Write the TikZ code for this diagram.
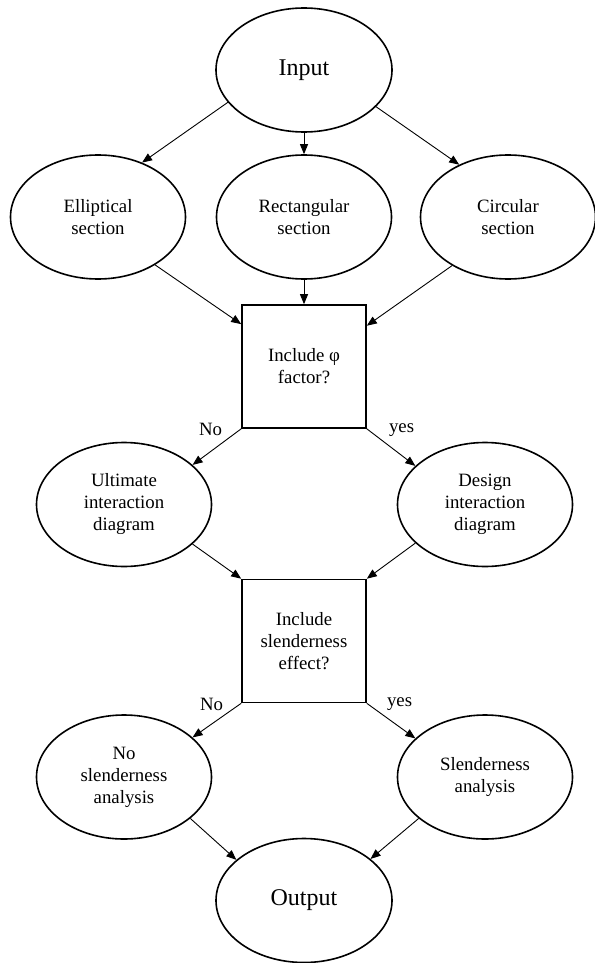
\documentclass[tikz,border=0pt]{standalone}
\usepackage{fontspec}
\setmainfont{Liberation Serif}
\usetikzlibrary{shapes.geometric}
\usetikzlibrary{arrows.meta}
\tikzstyle{process}=[draw, ellipse, line width=1.6pt, minimum width=175pt, minimum height=124pt, inner sep=0, align=center, font=\fontsize{18.8}{22}\selectfont]
\tikzstyle{terminal}=[process, minimum width=176pt, minimum height=124pt, font=\fontsize{24}{28}\selectfont]
\tikzstyle{decision}=[draw, rectangle, line width=1.6pt, minimum width=124pt, minimum height=123pt, inner sep=0, align=center, font=\fontsize{18.8}{22}\selectfont]
\tikzstyle{branch}=[inner sep=0, font=\fontsize{18.8}{22}\selectfont]
\tikzstyle{flow}=[line width=0.9pt, -{Triangle[length=10pt, width=8pt]}]

\begin{document}
\begin{tikzpicture}[x=1pt, y=-1pt]
      \useasboundingbox (0, 0) rectangle (594, 963);

      \node[terminal] (input) at (304, 70) {Input};

      \node[process] (elliptical) at (98, 217) {Elliptical\\section};
      \node[process] (rectangular) at (304, 217) {Rectangular\\section};
      \node[process] (circular) at (508, 217) {Circular\\section};

      \node[decision] (phi_check) at (304, 366.5) {Include φ\\factor?};
      \node[branch, anchor=east] (phi_no) at ([xshift=-19pt, yshift=-1pt] phi_check.south west) {No};
      \node[branch, anchor=west] (phi_yes) at ([xshift=22pt, yshift=-1pt] phi_check.south east) {yes};

      \node[process] (ultimate) at (124, 504.5) {Ultimate\\interaction\\diagram};
      \node[process] (design) at (485, 504.5) {Design\\interaction\\diagram};

      \node[decision] (slender_check) at (304, 641) {Include\\slenderness\\effect?};
      \node[branch, anchor=east] (slender_no) at ([xshift=-18pt, yshift=-1pt] slender_check.south west) {No};
      \node[branch, anchor=west] (slender_yes) at ([xshift=20pt, yshift=-1pt] slender_check.south east) {yes};

      \node[process] (no_slender) at (124, 777) {No\\slenderness\\analysis};
      \node[process] (slender) at (485, 777) {Slenderness\\analysis};

      \node[terminal] (output) at (304, 900.5) {Output};

      \draw[flow] (input.203) to (elliptical.51);
      \draw[flow] (input.south) to (rectangular.north);
      \draw[flow] (input.333) to (circular.133);

      \draw[flow] (elliptical.320) to (phi_check.146);
      \draw[flow] (rectangular.south) to (phi_check.north);
      \draw[flow] (circular.221) to (phi_check.33);

      \draw[flow] (phi_check.south west) to (ultimate.30);
      \draw[flow] (phi_check.south east) to (design.151);

      \draw[flow] (ultimate.330) to (slender_check.north west);
      \draw[flow] (design.209) to (slender_check.north east);

      \draw[flow] (slender_check.south west) to (no_slender.30);
      \draw[flow] (slender_check.south east) to (slender.151);

      \draw[flow] (no_slender.328) to (output.149);
      \draw[flow] (slender.212) to (output.32);
\end{tikzpicture}
\end{document}
